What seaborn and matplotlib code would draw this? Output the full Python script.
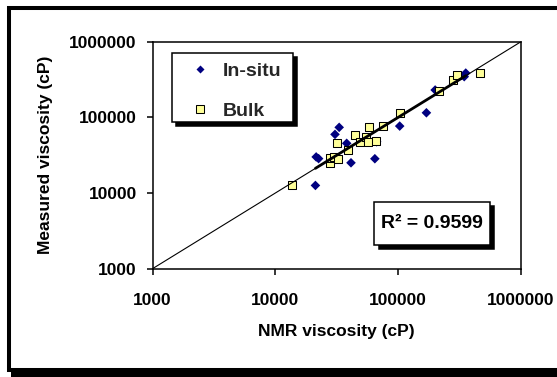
import numpy as np
import pandas as pd
import matplotlib
matplotlib.use('Agg')
import matplotlib.pyplot as plt
import seaborn as sns
from matplotlib.patches import Rectangle
from matplotlib.lines import Line2D
from matplotlib.ticker import NullLocator
from matplotlib import transforms

# ---- data ----
insitu_x = [21200, 21500, 22500, 30600, 33100, 38100, 41300, 64600, 66800,
            102900, 169800, 200000, 345000, 355000]
insitu_y = [12600, 30000, 28500, 59600, 73800, 45400, 25100, 28400, 47600,
            76700, 115000, 230000, 345000, 385000]
bulk_x = [13700, 28100, 28100, 30000, 32500, 31500, 39200, 44800, 48500,
          54700, 57600, 56500, 65400, 74800, 103600, 214000, 279000, 303000, 461000]
bulk_y = [12600, 24700, 28700, 30200, 28400, 45400, 37000, 58300, 47600,
          55400, 73800, 47600, 49100, 76700, 115000, 224000, 311000, 359000, 388000]
series_names = ['In-situ', 'Bulk']
tick_values = [1000, 10000, 100000, 1000000]
tick_labels = ['1000', '10000', '100000', '1000000']
trend_coef = 1.0
trend_exp = 1.0
r2_value = 0.9599
x_label = 'NMR viscosity (cP)'
y_label = 'Measured viscosity (cP)'

sns.set_theme(style='white')
plt.rcParams['font.family'] = ['Liberation Sans', 'DejaVu Sans']
plt.rcParams['font.weight'] = 'bold'

W, H = 557, 377
fig = plt.figure(figsize=(W / 100, H / 100), dpi=100)
fig.patch.set_facecolor('white')

# outer frame with shadow
fr_shadow = Rectangle((11 / W, 0), 1.2, 1 - 12 / H, transform=fig.transFigure,
                      fc='black', ec='none', zorder=-3)
fr = Rectangle((9 / W, 1 - 370 / H), 1.2, (370 - 8) / H, transform=fig.transFigure,
               fc='white', ec='black', lw=2.9, zorder=-2)
fig.patches.extend([fr_shadow, fr])

ax = fig.add_axes([152.5 / W, 1 - 268.7 / H, 368.5 / W, 227 / H])
ax.set_facecolor('white')

df_in = pd.DataFrame({'x': insitu_x, 'y': insitu_y, 'series': series_names[0]})
df_bk = pd.DataFrame({'x': bulk_x, 'y': bulk_y, 'series': series_names[1]})

sns.scatterplot(data=df_in, x='x', y='y', marker='D', s=24, color='#000080',
                edgecolor='none', linewidth=0, ax=ax, zorder=2, legend=False)
sns.scatterplot(data=df_bk, x='x', y='y', marker='s', s=40, color='#FFFF99',
                edgecolor='black', linewidth=0.75, ax=ax, zorder=2, legend=False)

ax.set_xscale('log')
ax.set_yscale('log')
ax.set_xlim(tick_values[0], tick_values[-1])
ax.set_ylim(tick_values[0], tick_values[-1])

# 1:1 line
ax.plot([tick_values[0], tick_values[-1]], [tick_values[0], tick_values[-1]],
        color='black', lw=0.8, zorder=3)
# trend line over in-situ range
tx = np.array([min(insitu_x), max(insitu_x)], dtype=float)
ty = trend_coef * tx ** trend_exp
ax.plot(tx, ty, color='black', lw=2.0, zorder=3)

ax.set_xticks(tick_values, tick_labels)
ax.set_yticks(tick_values, tick_labels)
ax.xaxis.set_minor_locator(NullLocator())
ax.yaxis.set_minor_locator(NullLocator())
ax.tick_params(axis='both', which='major', bottom=True, left=True, direction='out',
               length=4.3, width=1.1, color='black', labelsize=12.5, labelcolor='black')
ax.tick_params(axis='x', pad=13.5)
ax.tick_params(axis='y', pad=7.0)
for sp in ax.spines.values():
    sp.set_color('black')
    sp.set_linewidth(1.1)
    sp.set_visible(True)

ax.set_xlabel(x_label, fontsize=12.5, fontweight='bold', color='black', labelpad=11.2)
ax.set_ylabel(y_label, fontsize=12.5, fontweight='bold', color='black', labelpad=11.5)

# legend box with shadow (drawn manually), legend entries without frame
lx0, lx1 = 0.052, 0.382
ly0, ly1 = 0.648, 0.949
sh_tr = transforms.offset_copy(ax.transAxes, fig=fig, x=3, y=-3, units='points')
ax.add_patch(Rectangle((lx0, ly0), lx1 - lx0, ly1 - ly0, transform=sh_tr,
                       fc='black', ec='black', lw=1.1, zorder=8))
ax.add_patch(Rectangle((lx0, ly0), lx1 - lx0, ly1 - ly0, transform=ax.transAxes,
                       fc='white', ec='black', lw=1.1, zorder=9))

handles = [
    Line2D([], [], marker='D', ls='none', color='#000080', markersize=4.4, mec='none'),
    Line2D([], [], marker='s', ls='none', mfc='#FFFF99', mec='black', markersize=5.8, mew=0.75),
]
leg = ax.legend(handles, series_names, loc='upper left', bbox_to_anchor=(0.1026, 0.910),
                frameon=False, borderpad=0, labelspacing=1.14, handlelength=1.0,
                handletextpad=0.69, prop={'size': 14, 'weight': 'bold'}, borderaxespad=0)
leg.set_zorder(10)

# R^2 box with shadow
bx0, bx1 = 0.602, 0.916
by0, by1 = 0.104, 0.2925
ax.add_patch(Rectangle((bx0, by0), bx1 - bx0, by1 - by0, transform=sh_tr,
                       fc='black', ec='black', lw=1.1, zorder=8))
ax.add_patch(Rectangle((bx0, by0), bx1 - bx0, by1 - by0, transform=ax.transAxes,
                       fc='white', ec='black', lw=1.1, zorder=9))
ax.text((bx0 + bx1) / 2, (by0 + by1) / 2, 'R\u00b2 = {:.4f}'.format(r2_value),
        transform=ax.transAxes, ha='center', va='center', fontsize=14,
        fontweight='bold', color='black', zorder=10)

fig.savefig('out.png', dpi=100, facecolor='white')
